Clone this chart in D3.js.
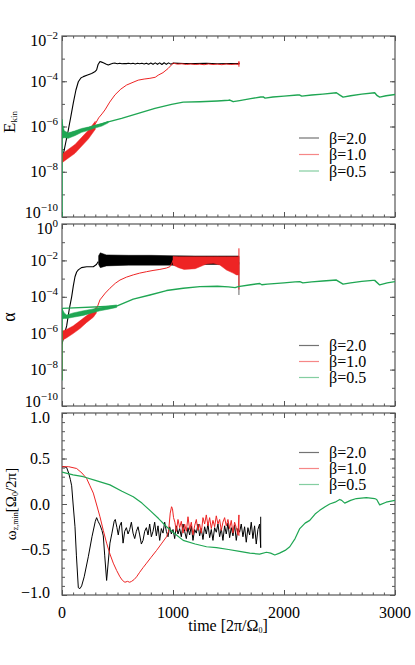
<!DOCTYPE html>
<html>
<head>
<meta charset="utf-8">
<script src="https://cdn.jsdelivr.net/npm/d3@7"></script>
<style>
  body { margin: 0; background: #fff; }
  svg text { font-family: "Liberation Serif", "Times New Roman", Tinos, Times, serif; fill: #000; }
</style>
</head>
<body>
<div id="chart"></div>
<script>

// ---- data ----
const timeTicks = [0, 1000, 2000, 3000];
const ekinExps = [-2, -4, -6, -8, -10];
const alphaExps = [0, -2, -4, -6, -8, -10];
const omegaTicks = [1.0, 0.5, 0.0, -0.5, -1.0];
const seriesNames = ["β=2.0", "β=1.0", "β=0.5"];
const seriesColors = ["#000000", "#ee2424", "#1fa653"];

// E_kin  [time, value]
const ekinBlack = [[0, 3e-8], [30, 1.6e-7], [57, 7e-7], [80, 2.8e-6], [102, 1.1e-5], [125, 4e-5], [147, 9.5e-5],
  [170, 1.4e-4], [192, 1.6e-4], [230, 1.9e-4], [267, 2.2e-4], [295, 2.6e-4], [312, 3.2e-4], [325, 5.5e-4],
  [342, 7.4e-4], [358, 7e-4], [372, 6.6e-4], [395, 5.8e-4], [417, 5.2e-4], [440, 5.8e-4], [460, 6.2e-4],
  [480, 6.3e-4], [500, 5.9e-4], [520, 6.2e-4], [540, 5.9e-4], [560, 6.1e-4], [580, 6.0e-4], [600, 6.2e-4],
  [620, 5.9e-4], [640, 6.2e-4], [660, 5.8e-4], [680, 6.2e-4], [700, 5.9e-4], [720, 6.2e-4], [740, 5.8e-4],
  [760, 6.3e-4], [780, 5.7e-4], [800, 6.4e-4], [820, 5.6e-4], [840, 6.5e-4], [860, 5.6e-4], [880, 6.5e-4],
  [900, 5.5e-4], [920, 6.6e-4], [940, 5.6e-4], [960, 6.5e-4], [980, 5.7e-4], [1000, 6.3e-4], [1100, 6.1e-4],
  [1200, 6.0e-4], [1300, 6.2e-4], [1400, 5.9e-4], [1500, 6.1e-4], [1600, 6.0e-4]];
// noisy start: [time, lower, upper]
const ekinRedBand = [[0, 2.5e-8, 6e-8], [40, 3.5e-8, 8.5e-8], [117, 6.5e-8, 1.6e-7], [180, 1.4e-7, 3.4e-7],
  [237, 2.8e-7, 6.8e-7], [300, 7.5e-7, 1.7e-6]];
const ekinRed = [[300, 1.3e-6], [330, 2.4e-6], [360, 3.6e-6], [387, 5.4e-6], [430, 1.2e-5], [477, 2.5e-5],
  [530, 4.5e-5], [582, 6.8e-5], [640, 9e-5], [687, 1.12e-4], [740, 1.25e-4], [792, 1.35e-4], [840, 1.5e-4],
  [867, 1.86e-4], [910, 2.4e-4], [957, 3.7e-4], [990, 5.5e-4], [1002, 6.3e-4], [1040, 5.7e-4], [1080, 5.9e-4],
  [1120, 5.5e-4], [1160, 5.8e-4], [1200, 5.5e-4], [1240, 5.7e-4], [1280, 5.4e-4], [1320, 5.8e-4], [1360, 5.5e-4],
  [1400, 5.7e-4], [1440, 5.4e-4], [1480, 5.8e-4], [1520, 5.5e-4], [1560, 5.7e-4], [1594, 5.6e-4],
  [1594, 7.5e-4], [1594, 4.4e-4]];
const ekinGreenBand = [[0, 3e-7, 1.6e-6], [20, 3.2e-7, 6.5e-7], [57, 3e-7, 5.2e-7], [120, 4e-7, 6.5e-7],
  [177, 5.5e-7, 8.2e-7], [240, 6.8e-7, 9.5e-7], [297, 8.5e-7, 1.15e-6], [360, 1.05e-6, 1.35e-6], [417, 1.45e-6, 1.7e-6]];
const ekinGreen = [[0, 1e-10], [0, 2e-6], [2, 4e-7], [417, 1.6e-6], [537, 2.3e-6], [687, 3.8e-6], [837, 6.3e-6],
  [987, 9.5e-6], [1092, 1.2e-5], [1242, 1.25e-5], [1400, 1.35e-5], [1500, 1.45e-5], [1512, 1.48e-5],
  [1542, 1.25e-5], [1600, 1.4e-5], [1700, 1.7e-5], [1790, 2.0e-5], [1812, 2.05e-5], [1830, 1.8e-5],
  [1900, 2.0e-5], [2000, 2.2e-5], [2120, 2.45e-5], [2142, 2.45e-5], [2160, 2.2e-5], [2250, 2.45e-5],
  [2350, 2.7e-5], [2472, 3.1e-5], [2500, 2.5e-5], [2532, 2.0e-5], [2600, 2.3e-5], [2700, 2.7e-5],
  [2817, 3.1e-5], [2840, 2.3e-5], [2862, 2.0e-5], [2920, 2.3e-5], [3000, 2.6e-5]];

// alpha
const alphaBlack = [[0, 2.5e-7], [20, 8e-7], [42, 2.5e-6], [65, 2e-5], [87, 1e-4], [102, 4e-4], [117, 1.26e-3],
  [132, 2.3e-3], [147, 3e-3], [175, 4e-3], [222, 4.5e-3], [282, 4.5e-3], [310, 6e-3], [327, 8.5e-3]];
const alphaBlackBand = [[330, 6e-3, 1.8e-2], [345, 4e-3, 2.6e-2], [400, 5e-3, 2.0e-2], [600, 5.5e-3, 1.9e-2],
  [800, 5.5e-3, 1.9e-2], [1000, 5.5e-3, 1.8e-2], [1200, 6e-3, 1.75e-2], [1400, 6e-3, 1.75e-2], [1594, 6e-3, 1.75e-2]];
const alphaBlackEnd = [[1594, 8e-3], [1594, 1.26e-4]];
const alphaRedBand = [[0, 4e-7, 1.3e-6], [40, 5.5e-7, 1.6e-6], [100, 9.5e-7, 2.5e-6], [162, 1.8e-6, 4.8e-6],
  [220, 3.8e-6, 9e-6], [282, 7.5e-6, 1.7e-5], [310, 1.3e-5, 2.8e-5]];
const alphaRed = [[0, 2.7e-9], [1, 8e-7], [310, 2e-5], [342, 6.8e-5], [390, 1.6e-4], [432, 2.95e-4], [480, 5.5e-4],
  [522, 8.3e-4], [580, 1.2e-3], [642, 1.6e-3], [700, 2e-3], [762, 2.4e-3], [820, 2.8e-3], [882, 3.2e-3],
  [940, 3.8e-3], [972, 4.5e-3], [990, 7e-3], [1002, 1.05e-2]];
const alphaRedBand2 = [[1000, 5.6e-3, 1.65e-2], [1050, 4e-3, 1.6e-2], [1100, 3.2e-3, 1.6e-2], [1200, 3.5e-3, 1.6e-2],
  [1300, 6.3e-3, 1.6e-2], [1362, 6.9e-3, 1.6e-2], [1422, 5.6e-3, 1.6e-2], [1482, 2.95e-3, 1.6e-2],
  [1542, 2e-3, 1.6e-2], [1572, 1.6e-3, 1.6e-2], [1594, 1.6e-3, 1.6e-2]];
const alphaRedEnd = [[1594, 4.6e-2], [1594, 2.5e-4]];
const alphaGreenBand = [[0, 6e-6, 2.3e-5], [20, 6.5e-6, 1.3e-5], [42, 6.5e-6, 1e-5], [100, 7.5e-6, 1.3e-5],
  [192, 9.5e-6, 1.7e-5], [270, 1.3e-5, 2.1e-5], [342, 1.7e-5, 2.6e-5], [420, 2.1e-5, 3.1e-5], [492, 2.6e-5, 3.6e-5]];
const alphaGreen = [[0, 2.5e-9], [0, 2.3e-5], [492, 3.1e-5], [642, 7.4e-5], [792, 1.26e-4], [942, 2.2e-4],
  [1092, 2.95e-4], [1242, 3.6e-4], [1400, 3.8e-4], [1500, 3.5e-4], [1560, 3.2e-4], [1587, 3.6e-4], [1700, 4.6e-4],
  [1782, 5.4e-4], [1800, 4.6e-4], [1850, 5e-4], [2000, 5.8e-4], [2100, 6.6e-4], [2142, 6.8e-4], [2170, 5.8e-4],
  [2250, 6.6e-4], [2350, 7.4e-4], [2472, 8.3e-4], [2532, 5e-4], [2600, 5.8e-4], [2700, 7e-4], [2800, 8e-4],
  [2817, 8e-4], [2862, 4.5e-4], [2930, 5.8e-4], [3000, 6.8e-4]];

// omega_z,min
const omegaBlack = [[0, 0.41], [20, 0.41], [42, 0.40], [60, 0.34], [75, 0.27], [87, 0.2], [100, 0.0], [117, -0.25],
  [130, -0.57], [147, -0.92], [162, -0.93], [177, -0.9], [200, -0.8], [237, -0.58], [270, -0.36], [300, -0.19],
  [312, -0.15], [325, -0.19], [342, -0.23], [360, -0.29], [372, -0.35], [385, -0.57], [402, -0.84], [415, -0.66],
  [432, -0.43], [450, -0.32], [470, -0.19], [480, -0.17], [495, -0.26], [507, -0.34], [520, -0.24], [535, -0.2],
  [550, -0.43], [565, -0.3], [580, -0.26], [595, -0.33], [610, -0.28], [625, -0.2], [640, -0.32], [655, -0.38],
  [670, -0.3], [685, -0.25], [700, -0.34], [715, -0.44], [730, -0.4], [745, -0.3], [760, -0.26], [775, -0.34],
  [790, -0.22], [805, -0.36], [820, -0.3], [835, -0.2], [850, -0.35], [865, -0.24], [880, -0.4], [895, -0.27],
  [910, -0.32], [925, -0.2], [940, -0.3], [955, -0.36], [970, -0.25], [985, -0.33], [1000, -0.28], [1015, -0.38],
  [1030, -0.24], [1045, -0.33], [1060, -0.27], [1075, -0.36], [1090, -0.22], [1105, -0.3], [1120, -0.38],
  [1135, -0.26], [1150, -0.34], [1165, -0.24], [1180, -0.4], [1195, -0.28], [1210, -0.32], [1225, -0.22],
  [1240, -0.35], [1255, -0.27], [1270, -0.39], [1285, -0.25], [1300, -0.33], [1315, -0.22], [1330, -0.37],
  [1345, -0.28], [1360, -0.4], [1375, -0.26], [1390, -0.31], [1405, -0.22], [1420, -0.36], [1435, -0.27],
  [1450, -0.4], [1465, -0.24], [1480, -0.33], [1495, -0.21], [1510, -0.37], [1525, -0.26], [1540, -0.35],
  [1555, -0.23], [1570, -0.4], [1585, -0.27], [1600, -0.31], [1615, -0.22], [1630, -0.36], [1645, -0.25],
  [1660, -0.42], [1675, -0.26], [1690, -0.34], [1705, -0.2], [1720, -0.38], [1735, -0.24], [1750, -0.44],
  [1765, -0.28], [1780, -0.22], [1790, -0.48], [1790, -0.14]];
const omegaRed = [[0, 0.41], [60, 0.41], [132, 0.39], [180, 0.34], [222, 0.28], [252, 0.2], [282, 0.12], [310, 0.0],
  [342, -0.14], [372, -0.29], [402, -0.43], [432, -0.55], [462, -0.65], [492, -0.73], [522, -0.8], [545, -0.84],
  [567, -0.86], [590, -0.85], [610, -0.86], [627, -0.85], [650, -0.83], [672, -0.8], [700, -0.75], [730, -0.7],
  [762, -0.65], [800, -0.59], [852, -0.51], [900, -0.43], [942, -0.36], [960, -0.3], [975, -0.1], [987, -0.03],
  [995, -0.05], [1005, -0.15], [1017, -0.2], [1030, -0.3], [1045, -0.17], [1060, -0.26], [1075, -0.19],
  [1090, -0.32], [1105, -0.22], [1120, -0.3], [1135, -0.14], [1150, -0.28], [1165, -0.2], [1180, -0.34],
  [1195, -0.24], [1210, -0.17], [1225, -0.29], [1240, -0.22], [1255, -0.32], [1270, -0.15], [1285, -0.22],
  [1300, -0.12], [1315, -0.24], [1330, -0.15], [1345, -0.27], [1360, -0.18], [1375, -0.25], [1390, -0.13],
  [1405, -0.22], [1420, -0.17], [1435, -0.29], [1450, -0.2], [1465, -0.15], [1480, -0.24], [1495, -0.17],
  [1510, -0.27], [1525, -0.18], [1540, -0.32], [1555, -0.2], [1570, -0.26], [1585, -0.34], [1594, -0.12],
  [1594, -0.35]];
const omegaGreen = [[0, 0.35], [100, 0.32], [192, 0.3], [300, 0.26], [432, 0.21], [540, 0.14], [642, 0.08],
  [720, 0.01], [792, -0.07], [870, -0.16], [942, -0.25], [1020, -0.33], [1092, -0.4], [1200, -0.44],
  [1302, -0.47], [1392, -0.48], [1500, -0.5], [1600, -0.52], [1692, -0.54], [1780, -0.55], [1842, -0.53],
  [1880, -0.54], [1917, -0.56], [1960, -0.54], [2010, -0.51], [2052, -0.47], [2100, -0.38], [2142, -0.27],
  [2190, -0.21], [2232, -0.18], [2280, -0.11], [2322, -0.07], [2370, -0.03], [2412, 0.0], [2460, 0.02],
  [2502, 0.05], [2520, 0.04], [2547, 0.01], [2600, 0.04], [2652, 0.06], [2742, 0.07], [2817, 0.06],
  [2835, 0.05], [2862, -0.01], [2920, 0.02], [3000, 0.04]];

// ---- layout ----
const width = 415, height = 665;
const x = d3.scaleLinear().domain([0, 3000]).range([62, 395]);
const yEkin = d3.scaleLog().domain([1e-10, 1e-2]).range([217, 36]);
const yAlpha = d3.scaleLog().domain([1e-10, 1]).range([406, 224]);
const yOmega = d3.scaleLinear().domain([-1, 1]).range([595, 413]);

const svg = d3.select("#chart")
  .append("svg")
  .attr("width", width)
  .attr("height", height)
  .attr("font-family", "'Liberation Serif', 'Times New Roman', Times, serif");

const frameColor = "#555";

function decades(lo, hi) {
  let out = [];
  for (let e = lo; e <= hi; e++) out.push(Math.pow(10, e));
  return out;
}

// draws frame + inward ticks on all 4 sides
function drawFrame(id, y, majorY, minorY) {
  const g = svg.append("g");
  const [y0, y1] = y.range();
  const xMinor = d3.range(0, 3001, 100).filter(d => d % 1000 != 0);

  const axes = [
    [d3.axisLeft(y), `translate(${x(0)},0)`, majorY, 5],
    [d3.axisLeft(y), `translate(${x(0)},0)`, minorY, 3],
    [d3.axisRight(y), `translate(${x(3000)},0)`, majorY, 5],
    [d3.axisRight(y), `translate(${x(3000)},0)`, minorY, 3],
    [d3.axisBottom(x), `translate(0,${y0})`, timeTicks, 5],
    [d3.axisBottom(x), `translate(0,${y0})`, xMinor, 2.5],
    [d3.axisTop(x), `translate(0,${y1})`, timeTicks, 5],
    [d3.axisTop(x), `translate(0,${y1})`, xMinor, 2.5]
  ];
  axes.forEach(a => {
    const ax = g.append("g").attr("transform", a[1])
      .call(a[0].tickValues(a[2]).tickSize(-a[3]).tickFormat(""));
    ax.select(".domain").remove();
    ax.selectAll("line").attr("stroke", frameColor);
  });

  g.append("rect")
    .attr("x", x(0)).attr("y", y1)
    .attr("width", x(3000) - x(0)).attr("height", y0 - y1)
    .attr("fill", "none")
    .attr("stroke", frameColor)
    .attr("stroke-width", 1.2);

  svg.append("clipPath").attr("id", id)
    .append("rect")
    .attr("x", x(0)).attr("y", y1)
    .attr("width", x(3000) - x(0)).attr("height", y0 - y1);
}

function drawLine(id, y, data, color, w) {
  svg.append("path")
    .datum(data)
    .attr("clip-path", `url(#${id})`)
    .attr("fill", "none")
    .attr("stroke", color)
    .attr("stroke-width", w || 1)
    .attr("stroke-linejoin", "round")
    .attr("d", d3.line().x(d => x(d[0])).y(d => y(d[1])));
}

function drawBand(id, y, data, color) {
  svg.append("path")
    .datum(data)
    .attr("clip-path", `url(#${id})`)
    .attr("fill", color)
    .attr("stroke", color)
    .attr("stroke-width", 0.5)
    .attr("d", d3.area().x(d => x(d[0])).y0(d => y(d[1])).y1(d => y(d[2])));
}

function logLabels(y, exps) {
  const [y0, y1] = y.range();
  exps.forEach(e => {
    let yy = y(Math.pow(10, e));
    if (yy - y1 < 1) yy += 4;
    if (y0 - yy < 1) yy -= 5;
    const t = svg.append("text")
      .attr("x", 58).attr("y", yy + 5.5)
      .attr("text-anchor", "end")
      .attr("font-size", 16);
    t.append("tspan").text("10");
    t.append("tspan").attr("dy", -7).attr("font-size", 11)
      .text(e == 0 ? "0" : "\u2212" + (-e));
  });
}

function legend(yRows) {
  seriesNames.forEach((name, i) => {
    svg.append("line")
      .attr("x1", 299).attr("x2", 319)
      .attr("y1", yRows[i]).attr("y2", yRows[i])
      .attr("stroke", seriesColors[i])
      .attr("stroke-opacity", 0.55)
      .attr("stroke-width", 1.2);
    svg.append("text")
      .attr("x", 329).attr("y", yRows[i] + 5.5)
      .attr("font-size", 16)
      .text(name);
  });
}

// ---- panel 1: kinetic energy ----
drawFrame("c1", yEkin, decades(-10, -2).filter((d, i) => i % 2 == 0), decades(-10, -2));
drawLine("c1", yEkin, ekinBlack, seriesColors[0], 1.1);
drawBand("c1", yEkin, ekinRedBand, seriesColors[1]);
drawLine("c1", yEkin, ekinRed, seriesColors[1], 1);
drawBand("c1", yEkin, ekinGreenBand, seriesColors[2]);
drawLine("c1", yEkin, ekinGreen, seriesColors[2], 1.4);
logLabels(yEkin, ekinExps);
legend([138, 154.5, 171]);

// ---- panel 2: alpha ----
drawFrame("c2", yAlpha, decades(-10, 0).filter((d, i) => i % 2 == 0), decades(-10, 0));
drawLine("c2", yAlpha, alphaBlack, seriesColors[0], 1.1);
drawBand("c2", yAlpha, alphaBlackBand, seriesColors[0]);
drawLine("c2", yAlpha, alphaBlackEnd, "#666", 1);
drawBand("c2", yAlpha, alphaRedBand, seriesColors[1]);
drawLine("c2", yAlpha, alphaRed, seriesColors[1], 1);
drawBand("c2", yAlpha, alphaRedBand2, seriesColors[1]);
drawLine("c2", yAlpha, alphaRedEnd, seriesColors[1], 1);
drawBand("c2", yAlpha, alphaGreenBand, seriesColors[2]);
drawLine("c2", yAlpha, alphaGreen, seriesColors[2], 1.4);
logLabels(yAlpha, alphaExps);
legend([345.5, 361.5, 377.5]);

// ---- panel 3: omega ----
drawFrame("c3", yOmega, omegaTicks, d3.range(-10, 11).map(d => d / 10));
drawLine("c3", yOmega, omegaBlack, seriesColors[0], 1);
drawLine("c3", yOmega, omegaRed, seriesColors[1], 1);
drawLine("c3", yOmega, omegaGreen, seriesColors[2], 1.2);
legend([452.5, 468.5, 484.5]);

omegaTicks.forEach(v => {
  let yy = yOmega(v);
  if (v == 1) yy += 4;
  if (v == -1) yy -= 3;
  svg.append("text")
    .attr("x", 50).attr("y", yy + 5.5)
    .attr("text-anchor", "end")
    .attr("font-size", 16)
    .text(v < 0 ? "\u2212" + (-v).toFixed(1) : v.toFixed(1));
});

timeTicks.forEach(t => {
  svg.append("text")
    .attr("x", x(t)).attr("y", 618)
    .attr("text-anchor", "middle")
    .attr("font-size", 16)
    .text(t);
});

// ---- axis titles ----
const xt = svg.append("text")
  .attr("x", 228).attr("y", 631)
  .attr("text-anchor", "middle")
  .attr("font-size", 16);
xt.append("tspan").text("time [2\u03c0/\u03a9");
xt.append("tspan").attr("font-size", 8).attr("dy", 2).text("0");
xt.append("tspan").attr("dy", -2).text("]");

const t1 = svg.append("text")
  .attr("transform", "translate(15,122) rotate(-90)")
  .attr("text-anchor", "middle")
  .attr("font-size", 17);
t1.append("tspan").text("E");
t1.append("tspan").attr("font-size", 9).attr("dy", 2).text("kin");

svg.append("text")
  .attr("transform", "translate(15,317) rotate(-90)")
  .attr("text-anchor", "middle")
  .attr("font-size", 18)
  .text("\u03b1");

const t3 = svg.append("text")
  .attr("transform", "translate(16,504) rotate(-90)")
  .attr("text-anchor", "middle")
  .attr("font-size", 15);
t3.append("tspan").text("\u03c9");
t3.append("tspan").attr("font-size", 8).attr("dy", 2).text("z,min");
t3.append("tspan").attr("dy", -2).text("[\u03a9");
t3.append("tspan").attr("font-size", 8).attr("dy", 2).text("0");
t3.append("tspan").attr("dy", -2).text("/2\u03c0]");

</script>
</body>
</html>
